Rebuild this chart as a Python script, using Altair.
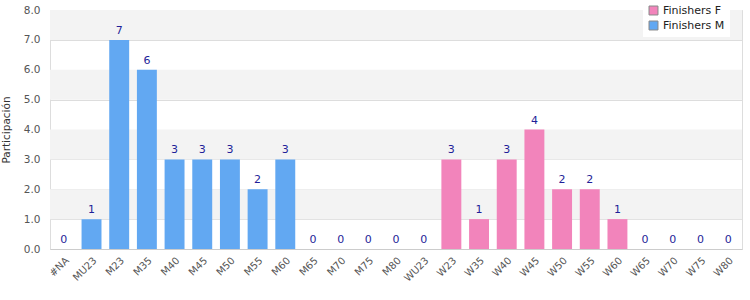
import altair as alt
import pandas as pd

categories = ["#NA", "MU23", "M23", "M35", "M40", "M45", "M50", "M55", "M60", "M65", "M70", "M75", "M80",
              "WU23", "W23", "W35", "W40", "W45", "W50", "W55", "W60", "W65", "W70", "W75", "W80"]
values = [0, 1, 7, 6, 3, 3, 3, 2, 3, 0, 0, 0, 0,
          0, 3, 1, 3, 4, 2, 2, 1, 0, 0, 0, 0]
series = ["Finishers M"] * 13 + ["Finishers F"] * 12
series_names = ["Finishers F", "Finishers M"]
series_colors = ["#f284bb", "#62a8f2"]
band_starts = [1, 3, 5, 7]
y_ticks = [0.0, 1.0, 2.0, 3.0, 4.0, 5.0, 6.0, 7.0, 8.0]

df = pd.DataFrame({"cat": categories, "val": values, "serie": series})
bands = pd.DataFrame({"y": band_starts, "y2": [b + 1 for b in band_starts]})

FONT = "DejaVu Sans"
W, H = 692, 239

yscale = alt.Scale(domain=[0, 8], nice=False)
yaxis = alt.Axis(title="Participación", values=y_ticks, format=".1f",
                 labelFont=FONT, labelFontSize=10.5, labelColor="#555", ticks=False,
                 domain=False, gridColor="#ddd", labelPadding=10, labelOverlap=False,
                 titleFont=FONT, titleFontSize=10.5, titleFontWeight="normal",
                 titleColor="#333", titlePadding=12)

band_layer = alt.Chart(bands).mark_rect(color="#f3f3f3").encode(
    x=alt.value(0), x2=alt.value(W),
    y=alt.Y("y:Q", scale=yscale, axis=yaxis), y2="y2:Q",
)

xenc = alt.X("cat:N", sort=categories, scale=alt.Scale(paddingInner=0.28, paddingOuter=0.14),
             axis=alt.Axis(title=None, labelAngle=-45, labelFont=FONT, labelFontSize=10,
                           labelColor="#555", ticks=False, domainColor="#ccc", labelPadding=6,
                           labelOverlap=False))

bars = alt.Chart(df).mark_bar().encode(
    x=xenc,
    y=alt.Y("val:Q", scale=yscale, axis=yaxis),
    color=alt.Color("serie:N", scale=alt.Scale(domain=series_names, range=series_colors),
                    legend=alt.Legend(title=None, orient="none", legendX=593, legendY=-10,
                                      fillColor="white", padding=5, symbolType="square",
                                      symbolSize=80, symbolStrokeColor="#888", symbolStrokeWidth=1,
                                      labelFont=FONT, labelFontSize=11, labelColor="#222",
                                      rowPadding=2)),
)

labels = alt.Chart(df).mark_text(font=FONT, fontSize=11, color="#1f1f99", dy=-4,
                                 baseline="bottom").encode(
    x=alt.X("cat:N", sort=categories),
    y=alt.Y("val:Q", scale=yscale, axis=yaxis),
    text="val:Q",
)

chart = alt.layer(band_layer, bars, labels).properties(
    width=W, height=H,
    autosize=alt.AutoSizeParams(type="none"),
    padding={"left": 50, "top": 10, "right": 8, "bottom": 51},
).configure_view(stroke="#ccc").configure(background="white").configure_axis(
    labelOverlap=False
).configure_axisY(labelOverlap=False, labelBound=False)

chart.save("out.html", embed_options={"renderer": "svg", "actions": False})
